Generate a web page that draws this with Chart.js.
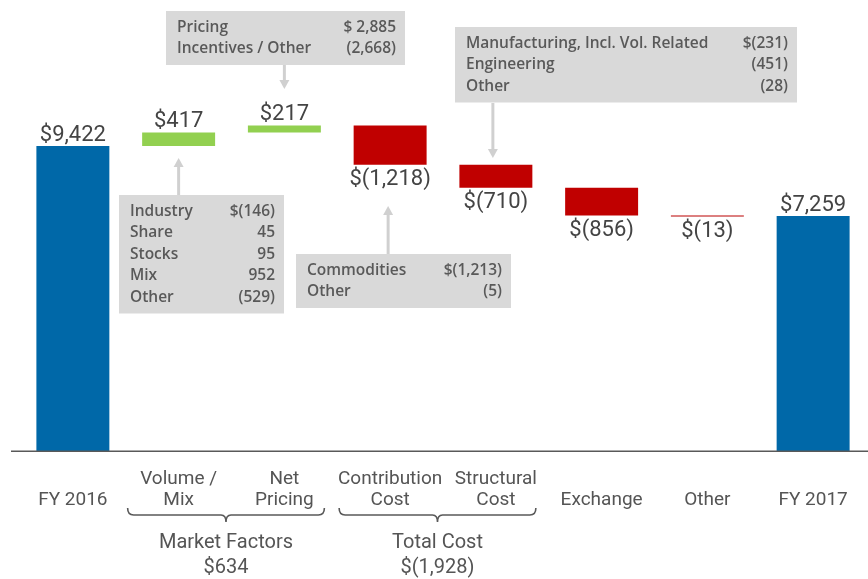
<!DOCTYPE html>
<html>
<head>
<meta charset="utf-8">
<script src="https://cdn.jsdelivr.net/npm/chart.js@4.4.0/dist/chart.umd.min.js"></script>
<style>
  html, body { margin: 0; padding: 0; background: #fff; }
  #wrap { width: 868px; height: 579px; }
</style>
</head>
<body>
<div id="wrap"><canvas id="myChart" width="868" height="579"></canvas></div>
<script>
// categories (two lines each, empty first line keeps single labels on the lower row)
const categories = [
  ['', 'FY 2016'], ['Volume /', 'Mix'], ['Net', 'Pricing'], ['Contribution', 'Cost'],
  ['Structural', 'Cost'], ['', 'Exchange'], ['', 'Other'], ['', 'FY 2017']
];
const changes = [9422, 417, 217, -1218, -710, -856, -13, 7259];
const isTotal = [true, false, false, false, false, false, false, true];
const valueLabels = ['$9,422', '$417', '$217', '$(1,218)', '$(710)', '$(856)', '$(13)', '$7,259'];

const pricingNotes = [['Pricing', '$ 2,885'], ['Incentives / Other', '(2,668)']];
const volumeNotes = [['Industry', '$(146)'], ['Share', '45'], ['Stocks', '95'], ['Mix', '952'], ['Other', '(529)']];
const commodityNotes = [['Commodities', '$(1,213)'], ['Other', '(5)']];
const structuralNotes = [['Manufacturing, Incl. Vol. Related', '$(231)'], ['Engineering', '(451)'], ['Other', '(28)']];

const groups = [
  { from: 1, to: 2, title: 'Market Factors', value: '$634' },
  { from: 3, to: 4, title: 'Total Cost', value: '$(1,928)' }
];

// build floating bars
let running = 0;
const ranges = changes.map((v, i) => {
  if (isTotal[i]) { running = v; return [0, v]; }
  const r = [running, running + v];
  running += v;
  return r;
});
const colors = changes.map((v, i) => isTotal[i] ? '#0068a8' : (v >= 0 ? '#92d050' : '#c00000'));

const FONT = 'Roboto, "Open Sans", sans-serif';
const NOTE_FONT = '600 15.5px "Open Sans", sans-serif';

function drawBox(ctx, x, y, w, rows) {
  const h = rows.length * 21.5 + 11;
  ctx.fillStyle = '#d9d9d9';
  ctx.fillRect(x, y, w, h);
  ctx.font = NOTE_FONT;
  ctx.fillStyle = '#595959';
  ctx.textBaseline = 'middle';
  rows.forEach((r, k) => {
    const ly = y + 16.5 + k * 21.5;
    ctx.textAlign = 'left';
    ctx.fillText(r[0], x + 11, ly);
    ctx.textAlign = 'right';
    ctx.fillText(r[1], x + w - 9, ly);
  });
  return h;
}

function drawArrow(ctx, x, y1, y2) {
  const dir = y2 > y1 ? 1 : -1;
  ctx.strokeStyle = '#d0d0d0';
  ctx.fillStyle = '#d0d0d0';
  ctx.lineWidth = 3;
  ctx.beginPath();
  ctx.moveTo(x, y1);
  ctx.lineTo(x, y2 - dir * 8);
  ctx.stroke();
  ctx.beginPath();
  ctx.moveTo(x - 5, y2 - dir * 9);
  ctx.lineTo(x + 5, y2 - dir * 9);
  ctx.lineTo(x, y2);
  ctx.closePath();
  ctx.fill();
}

const extras = {
  id: 'extras',
  afterDatasetsDraw(chart) {
    const ctx = chart.ctx;
    const bars = chart.getDatasetMeta(0).data;
    const area = chart.chartArea;
    ctx.save();

    // axis line across the whole width
    ctx.strokeStyle = '#595959';
    ctx.lineWidth = 1.5;
    ctx.beginPath();
    ctx.moveTo(11, area.bottom);
    ctx.lineTo(chart.width, area.bottom);
    ctx.stroke();

    // the tiny "Other" change still shows as a thin red line
    const small = bars[6];
    ctx.strokeStyle = '#d98080';
    ctx.lineWidth = 1;
    ctx.beginPath();
    ctx.moveTo(small.x - small.width / 2, Math.round(small.y) + 0.5);
    ctx.lineTo(small.x + small.width / 2, Math.round(small.y) + 0.5);
    ctx.stroke();

    // value labels
    ctx.font = '22px ' + FONT;
    ctx.fillStyle = '#444';
    ctx.textAlign = 'center';
    bars.forEach((b, i) => {
      const top = Math.min(b.y, b.base), bottom = Math.max(b.y, b.base);
      if (isTotal[i] || changes[i] >= 0) {
        ctx.textBaseline = 'alphabetic';
        ctx.fillText(valueLabels[i], b.x, top - 5);
      } else {
        ctx.textBaseline = 'top';
        ctx.fillText(valueLabels[i], b.x, bottom + 4);
      }
    });

    // note boxes and arrows
    drawBox(ctx, 166, 11, 239, pricingNotes);
    drawArrow(ctx, bars[2].x, 65, 89);
    drawBox(ctx, 119, 195, 165, volumeNotes);
    drawArrow(ctx, bars[1].x, 195, 158);
    drawBox(ctx, 296, 254, 215, commodityNotes);
    drawArrow(ctx, bars[3].x - 2, 254, 206);
    drawBox(ctx, 455, 27, 342, structuralNotes);
    drawArrow(ctx, bars[4].x - 3, 103, 158);

    // group braces
    ctx.strokeStyle = '#595959';
    ctx.lineWidth = 1.6;
    groups.forEach(g => {
      const l = bars[g.from].x - 51, r = bars[g.to].x + 40;
      const mid = (l + r) / 2;
      const y = 515;
      ctx.beginPath();
      ctx.moveTo(l, 508);
      ctx.quadraticCurveTo(l, y, l + 6, y);
      ctx.lineTo(mid - 5, y);
      ctx.quadraticCurveTo(mid, y, mid, 522);
      ctx.quadraticCurveTo(mid, y, mid + 5, y);
      ctx.lineTo(r - 6, y);
      ctx.quadraticCurveTo(r, y, r, 508);
      ctx.stroke();
      ctx.font = '20px ' + FONT;
      ctx.fillStyle = '#555';
      ctx.textAlign = 'center';
      ctx.textBaseline = 'middle';
      ctx.fillText(g.title, mid, 543);
      ctx.fillText(g.value, mid, 568);
    });
    ctx.restore();
  }
};

const ctx = document.getElementById('myChart').getContext('2d');
const myChart = new Chart(ctx, {
  type: 'bar',
  data: {
    labels: categories,
    datasets: [{
      data: ranges,
      backgroundColor: colors,
      borderWidth: 0,
      barPercentage: 0.69,
      categoryPercentage: 1
    }]
  },
  options: {
    responsive: false,
    animation: false,
    layout: { padding: { left: 20, right: 2, top: 30, bottom: 50 } },
    plugins: {
      legend: { display: false },
      tooltip: { enabled: false }
    },
    scales: {
      x: {
        grid: { display: false, drawTicks: false },
        border: { display: false },
        ticks: {
          color: '#555',
          font: { family: FONT, size: 19, lineHeight: 1.1 },
          padding: 18,
          maxRotation: 0,
          autoSkip: false
        }
      },
      y: {
        display: false,
        min: 0,
        max: 13000
      }
    }
  },
  plugins: [extras]
});
</script>
</body>
</html>
